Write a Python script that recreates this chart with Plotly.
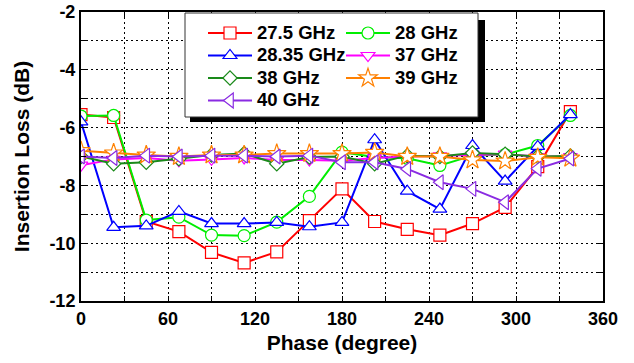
import plotly.graph_objects as go

phase = [0, 22.5, 45, 67.5, 90, 112.5, 135, 157.5, 180, 202.5, 225, 247.5, 270, 292.5, 315, 337.5]

il_27_5 = [-5.55, -5.65, -9.25, -9.6, -10.32, -10.68, -10.3, -9.22, -8.12, -9.25, -9.52, -9.72, -9.32, -8.76, -7.35, -5.45]
il_28 = [-5.6, -5.58, -9.2, -9.1, -9.72, -9.74, -9.27, -8.38, -6.85, -7.02, -7.06, -7.31, -6.97, -6.93, -6.62, -5.58]
il_28_35 = [-5.8, -9.45, -9.4, -8.9, -9.32, -9.32, -9.28, -9.43, -9.28, -6.42, -8.2, -8.82, -6.62, -7.85, -6.65, -5.55]
il_37 = [-7.3, -7.1, -7.05, -7.15, -7.1, -7.05, -7.12, -7.12, -7.15, -7.05, -7.0, -6.98, -6.95, -6.92, -7.0, -7.0]
il_38 = [-7.0, -7.25, -7.2, -7.08, -6.95, -6.9, -7.25, -7.02, -7.0, -7.25, -6.97, -7.0, -6.88, -6.92, -7.0, -6.98]
il_39 = [-6.8, -6.88, -6.95, -7.0, -6.95, -6.95, -6.9, -6.9, -6.9, -6.86, -7.0, -7.0, -7.12, -7.16, -7.03, -7.06]
il_40 = [-7.0, -7.05, -6.97, -7.0, -6.97, -6.97, -7.0, -6.97, -7.2, -7.2, -7.43, -7.89, -8.12, -8.58, -7.42, -7.07]

names = ["27.5 GHz", "28 GHz", "28.35 GHz", "37 GHz", "38 GHz", "39 GHz", "40 GHz"]
series = [il_27_5, il_28, il_28_35, il_37, il_38, il_39, il_40]
colors = ["#ff0000", "#00ee00", "#0000ff", "#ff00ff", "#1a8a1a", "#ff8000", "#8a2be2"]
symbols = ["square", "circle", "triangle-up", "triangle-down", "diamond", "star", "triangle-left"]
sizes = [12, 12, 12, 12, 11, 14, 13]
legends = ["legend", "legend2", "legend", "legend2", "legend", "legend2", "legend"]

x_ticks = [0, 60, 120, 180, 240, 300, 360]
x_labels = ["0", "60", "120", "180", "240", "300", "360"]
y_ticks = [-12, -10, -8, -6, -4, -2]
y_labels = ["-12", "-10", "-8", "-6", "-4", "-2"]

FONT = "Liberation Sans, Arial, sans-serif"

fig = go.Figure()
for name, y, c, s, sz, lg in zip(names, series, colors, symbols, sizes, legends):
    fig.add_trace(go.Scatter(
        x=phase, y=y, mode="lines+markers",
        name="<span style='font-size:18.5px'><b>%s</b></span>" % name,
        legend=lg,
        line=dict(color=c, width=2),
        marker=dict(symbol=s, size=sz, color="white",
                    line=dict(color=c, width=1.2)),
    ))

W, H = 634, 363
ml, mr, mt, mb = 81, 31, 12, 62
pw, ph = W - ml - mr, H - mt - mb


def px(x):
    return (x - ml) / pw


def py(y):
    return (H - mb - y) / ph


grid = dict(color="black", dash="2px,3px", width=1)

fig.update_layout(
    template="none",
    width=W, height=H,
    margin=dict(l=ml, r=mr, t=mt, b=mb, autoexpand=False),
    plot_bgcolor="white", paper_bgcolor="white",
    font=dict(family=FONT, color="black"),
    legend=dict(x=px(203), y=py(16.75), xanchor="left", yanchor="top",
                bgcolor="rgba(0,0,0,0)", borderwidth=0, itemwidth=44,
                font=dict(size=15, family=FONT, color="black")),
    legend2=dict(x=px(341), y=py(16.75), xanchor="left", yanchor="top",
                 bgcolor="rgba(0,0,0,0)", borderwidth=0, itemwidth=44,
                 font=dict(size=15, family=FONT, color="black")),
    shapes=[
        dict(type="rect", xref="paper", yref="paper", layer="above",
             x0=px(190), x1=px(485), y0=py(122), y1=py(20),
             fillcolor="black", line=dict(width=0)),
        dict(type="rect", xref="paper", yref="paper", layer="above",
             x0=px(185), x1=px(478), y0=py(117), y1=py(13),
             fillcolor="white", line=dict(color="#333333", width=1)),
    ],
)

fig.update_xaxes(
    automargin=False,
    range=[0, 360], tickmode="array", tickvals=x_ticks, ticktext=x_labels,
    ticks="inside", ticklen=5, tickcolor="black", tickwidth=1,
    showline=True, linecolor="black", linewidth=2, mirror="allticks",
    showgrid=True, gridcolor=grid["color"], griddash=grid["dash"], gridwidth=1,
    zeroline=False,
    minor=dict(tickmode="linear", tick0=0, dtick=30, ticks="inside", ticklen=5,
               tickcolor="black", showgrid=True, gridcolor=grid["color"],
               griddash=grid["dash"], gridwidth=1),
    tickfont=dict(size=18, family=FONT, color="black", weight="bold"),
    title=dict(text="<b>Phase (degree)</b>", font=dict(size=21, family=FONT), standoff=8),
)
fig.update_yaxes(
    automargin=False,
    range=[-12, -2], tickmode="array", tickvals=y_ticks, ticktext=y_labels,
    ticks="inside", ticklen=5, tickcolor="black", tickwidth=1,
    showline=True, linecolor="black", linewidth=2, mirror="allticks",
    showgrid=True, gridcolor=grid["color"], griddash=grid["dash"], gridwidth=1,
    zeroline=False,
    minor=dict(tickmode="linear", tick0=-12, dtick=1, ticks="inside", ticklen=5,
               tickcolor="black", showgrid=True, gridcolor=grid["color"],
               griddash=grid["dash"], gridwidth=1),
    tickfont=dict(size=18, family=FONT, color="black", weight="bold"),
    title=dict(text="<b>Insertion Loss (dB)</b>", font=dict(size=21, family=FONT), standoff=14),
)

fig.write_html("out.html")
